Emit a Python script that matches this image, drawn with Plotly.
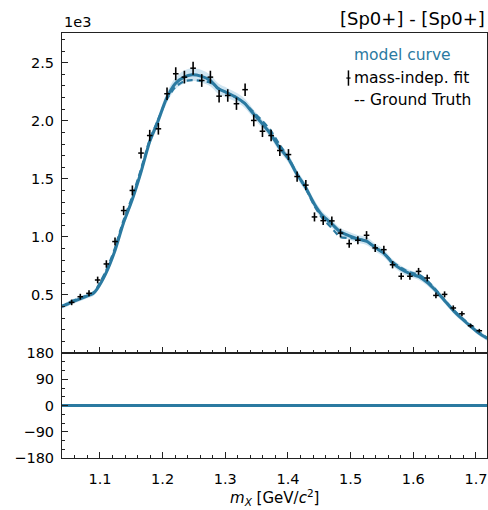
import plotly.graph_objects as go
from plotly.subplots import make_subplots

# ---- mass-independent fit points (intensity in units of 1e3) ----
fit_mass = [1.0548, 1.0686, 1.0825, 1.0963, 1.1102, 1.1240, 1.1378, 1.1517, 1.1655, 1.1794,
            1.1932, 1.2070, 1.2209, 1.2347, 1.2486, 1.2624, 1.2762, 1.2901, 1.3039, 1.3178,
            1.3316, 1.3454, 1.3593, 1.3731, 1.3870, 1.4008, 1.4146, 1.4285, 1.4423, 1.4562,
            1.4700, 1.4838, 1.4977, 1.5115, 1.5254, 1.5392, 1.5530, 1.5669, 1.5807, 1.5946,
            1.6084, 1.6222, 1.6361, 1.6499, 1.6638, 1.6776, 1.6914, 1.7053]
fit_int = [0.436, 0.485, 0.514, 0.629, 0.767, 0.960, 1.227, 1.400, 1.722, 1.873,
           1.931, 2.233, 2.405, 2.376, 2.453, 2.347, 2.376, 2.212, 2.218, 2.147,
           2.268, 2.003, 1.910, 1.873, 1.744, 1.709, 1.520, 1.446, 1.172, 1.140,
           1.138, 1.033, 0.942, 0.971, 1.014, 0.905, 0.890, 0.760, 0.661, 0.661,
           0.703, 0.646, 0.496, 0.505, 0.388, 0.338, 0.235, 0.192]
fit_err = [0.024, 0.025, 0.026, 0.029, 0.032, 0.035, 0.040, 0.043, 0.047, 0.049,
           0.050, 0.054, 0.056, 0.055, 0.056, 0.055, 0.055, 0.054, 0.054, 0.053,
           0.054, 0.051, 0.050, 0.049, 0.048, 0.047, 0.044, 0.043, 0.039, 0.038,
           0.038, 0.037, 0.035, 0.035, 0.036, 0.034, 0.034, 0.031, 0.029, 0.029,
           0.030, 0.029, 0.025, 0.026, 0.022, 0.021, 0.017, 0.016]

# ---- model curve / ground truth ----
curve_mass = [1.039, 1.047, 1.055, 1.068, 1.081, 1.089, 1.095, 1.109, 1.123, 1.137,
              1.151, 1.165, 1.179, 1.192, 1.206, 1.220, 1.234, 1.247, 1.261, 1.276,
              1.289, 1.303, 1.317, 1.331, 1.345, 1.359, 1.372, 1.386, 1.401, 1.414,
              1.428, 1.442, 1.455, 1.470, 1.483, 1.497, 1.511, 1.526, 1.539, 1.553,
              1.566, 1.580, 1.594, 1.609, 1.622, 1.636, 1.650, 1.664, 1.678, 1.692,
              1.705, 1.718]
model_int = [0.400, 0.418, 0.440, 0.466, 0.494, 0.512, 0.548, 0.681, 0.867, 1.112,
             1.313, 1.550, 1.816, 1.988, 2.190, 2.319, 2.376, 2.397, 2.385, 2.347,
             2.276, 2.241, 2.203, 2.150, 2.060, 1.974, 1.888, 1.772, 1.672, 1.543,
             1.428, 1.284, 1.184, 1.112, 1.045, 1.011, 0.983, 0.962, 0.910, 0.859,
             0.781, 0.724, 0.686, 0.658, 0.609, 0.537, 0.451, 0.365, 0.293, 0.227,
             0.169, 0.125]
model_band = [0.020, 0.020, 0.020, 0.020, 0.020, 0.020, 0.022, 0.025, 0.028, 0.030,
              0.032, 0.035, 0.038, 0.040, 0.045, 0.050, 0.055, 0.055, 0.055, 0.050,
              0.045, 0.042, 0.040, 0.040, 0.038, 0.036, 0.035, 0.035, 0.035, 0.035,
              0.035, 0.035, 0.035, 0.035, 0.033, 0.033, 0.033, 0.033, 0.033, 0.032,
              0.030, 0.030, 0.030, 0.030, 0.028, 0.027, 0.025, 0.024, 0.022, 0.020,
              0.020, 0.020]
truth_int = [0.405, 0.425, 0.447, 0.472, 0.500, 0.520, 0.560, 0.700, 0.890, 1.135,
             1.340, 1.575, 1.830, 2.000, 2.180, 2.290, 2.340, 2.350, 2.345, 2.330,
             2.280, 2.240, 2.200, 2.150, 2.075, 2.000, 1.920, 1.800, 1.680, 1.545,
             1.420, 1.270, 1.160, 1.075, 1.000, 0.990, 0.985, 0.960, 0.910, 0.860,
             0.790, 0.735, 0.695, 0.675, 0.625, 0.545, 0.455, 0.370, 0.300, 0.240,
             0.180, 0.130]
model_phase = [0.0] * len(curve_mass)
truth_phase = [0.0] * len(curve_mass)

x_ticks = [1.1, 1.2, 1.3, 1.4, 1.5, 1.6, 1.7]
y_ticks = [0.5, 1.0, 1.5, 2.0, 2.5]
phase_ticks = [180, 90, 0, -90, -180]
phase_ticktext = ["180", "90", "0", "\u221290", "\u2212180"]

LINE = "#2b7aa1"
BAND = "rgba(120,180,215,0.35)"
FONT = "DejaVu Sans"

fig = make_subplots(rows=2, cols=1, shared_xaxes=True, vertical_spacing=0,
                    row_heights=[0.753, 0.247])

band_lo = [m - b for m, b in zip(model_int, model_band)]
band_hi = [m + b for m, b in zip(model_int, model_band)]
fig.add_trace(go.Scatter(x=curve_mass, y=band_lo, mode="lines", line=dict(width=0, color=BAND),
                         line_shape="spline", showlegend=False, hoverinfo="skip"), row=1, col=1)
fig.add_trace(go.Scatter(x=curve_mass, y=band_hi, mode="lines", line=dict(width=0, color=BAND),
                         line_shape="spline", fill="tonexty", fillcolor=BAND,
                         showlegend=False, hoverinfo="skip"), row=1, col=1)
fig.add_trace(go.Scatter(x=curve_mass, y=model_int, mode="lines",
                         line=dict(color=LINE, width=3, shape="spline", smoothing=0.6),
                         showlegend=False), row=1, col=1)
fig.add_trace(go.Scatter(x=curve_mass, y=truth_int, mode="lines",
                         line=dict(color=LINE, width=2.2, dash="6px,4px", shape="spline", smoothing=0.6),
                         showlegend=False), row=1, col=1)
fig.add_trace(go.Scatter(x=fit_mass, y=fit_int, mode="markers",
                         marker=dict(symbol="line-ew", size=4, color="black",
                                     line=dict(color="black", width=1.5)),
                         error_y=dict(type="data", array=fit_err, color="black",
                                      thickness=1.6, width=0),
                         showlegend=False), row=1, col=1)

fig.add_trace(go.Scatter(x=curve_mass, y=model_phase, mode="lines",
                         line=dict(color=LINE, width=3), showlegend=False), row=2, col=1)
fig.add_trace(go.Scatter(x=curve_mass, y=truth_phase, mode="lines",
                         line=dict(color=LINE, width=2, dash="6px,4px"), showlegend=False), row=2, col=1)

axis_common = dict(showline=True, linecolor="#222", linewidth=1, mirror=True,
                   ticks="inside", tickcolor="#222", tickwidth=1, ticklen=6,
                   showgrid=False, zeroline=False,
                   tickfont=dict(family=FONT, size=14.5, color="black"))

fig.update_xaxes(**axis_common, range=[1.0394, 1.7176], tickvals=x_ticks,
                 minor=dict(dtick=0.02, tick0=1.0, ticks="inside", ticklen=3,
                            tickcolor="#222", showgrid=False))
fig.update_xaxes(showticklabels=False, row=1, col=1)
fig.update_xaxes(ticklabelstandoff=8, row=2, col=1)

fig.update_yaxes(**axis_common)
fig.update_yaxes(range=[0.0, 2.756], tickvals=y_ticks,
                 ticktext=["0.5", "1.0", "1.5", "2.0", "2.5"],
                 minor=dict(dtick=0.1, tick0=0, ticks="inside", ticklen=3,
                            tickcolor="#222", showgrid=False),
                 ticklabelstandoff=4, row=1, col=1)
fig.update_yaxes(range=[-180, 180], tickvals=phase_ticks, ticktext=phase_ticktext,
                 minor=dict(dtick=30, tick0=0, ticks="inside", ticklen=3,
                            tickcolor="#222", showgrid=False),
                 ticklabelstandoff=4, row=2, col=1)

ann = [
    dict(text="1e3", x=0, y=1.026, xref="paper", yref="paper", xanchor="left",
         yanchor="middle", showarrow=False, font=dict(family=FONT, size=14.5, color="black")),
    dict(text="[Sp0+] - [Sp0+]", x=1.0, y=1.035, xref="paper", yref="paper",
         xanchor="right", yanchor="middle", showarrow=False,
         font=dict(family=FONT, size=18, color="black")),
    dict(text="model curve", x=0.682, y=0.948, xref="paper", yref="paper", xanchor="left",
         yanchor="middle", showarrow=False, font=dict(family=FONT, size=15.5, color=LINE)),
    dict(text="mass-indep. fit", x=0.682, y=0.894, xref="paper", yref="paper", xanchor="left",
         yanchor="middle", showarrow=False, font=dict(family=FONT, size=15.5, color="black")),
    dict(text="-- Ground Truth", x=0.682, y=0.842, xref="paper", yref="paper", xanchor="left",
         yanchor="middle", showarrow=False, font=dict(family=FONT, size=15.5, color="black")),
    dict(text="<i>m</i><sub><i>X</i></sub> [GeV/<i>c</i><sup>2</sup>]", x=0.5, y=-0.092,
         xref="paper", yref="paper", xanchor="center", yanchor="middle", showarrow=False,
         font=dict(family=FONT, size=15, color="black")),
]

shapes = [
    dict(type="line", xref="paper", yref="paper", x0=0.674, x1=0.674, y0=0.876, y1=0.912,
         line=dict(color="black", width=1.5)),
    dict(type="line", xref="paper", yref="paper", x0=0.669, x1=0.679, y0=0.894, y1=0.894,
         line=dict(color="black", width=1.2)),
]

fig.update_layout(width=488, height=510, margin=dict(l=62, r=1, t=33, b=52),
                  paper_bgcolor="white", plot_bgcolor="white",
                  annotations=ann, shapes=shapes, showlegend=False,
                  font=dict(family=FONT, color="black"))

fig.write_html("out.html")
